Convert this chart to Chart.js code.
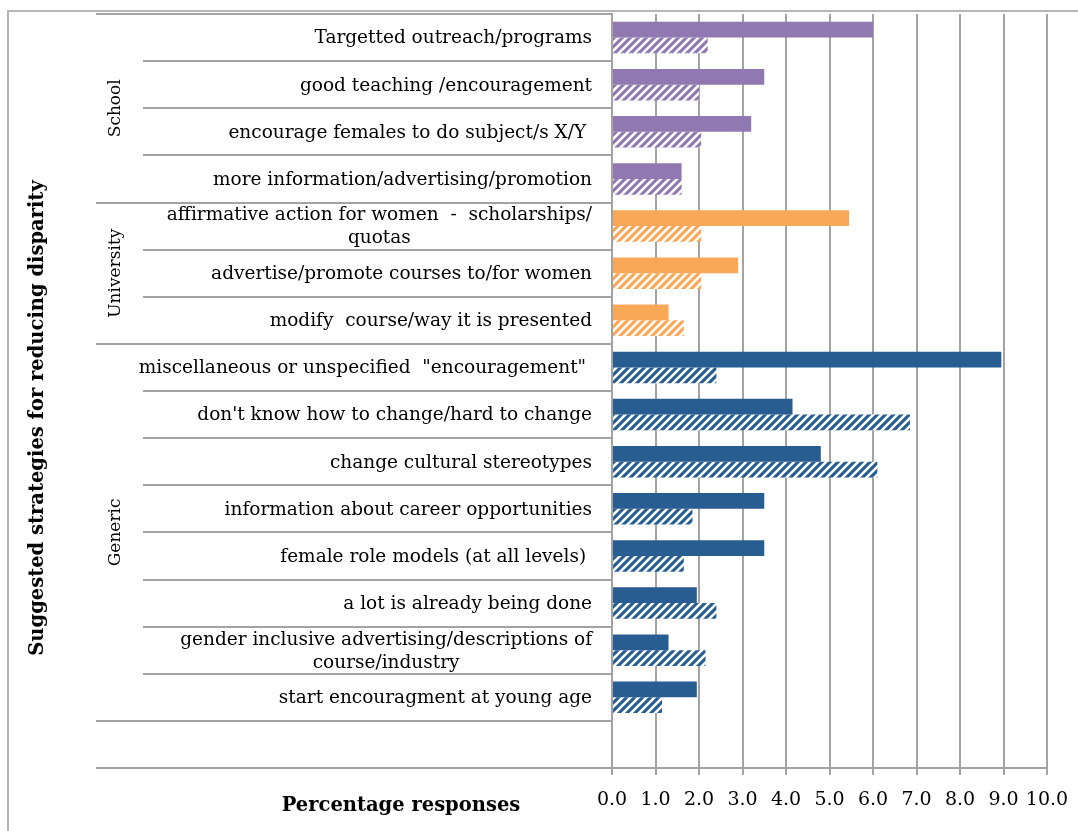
<!DOCTYPE html>
<html>
<head>
<meta charset="utf-8">
<script src="https://cdn.jsdelivr.net/npm/chart.js@4/dist/chart.umd.min.js"></script>
<style>
  html, body { margin: 0; padding: 0; background: #fff; }
  #wrap { position: relative; width: 1078px; height: 831px; }
</style>
</head>
<body>
<div id="wrap"><canvas id="MyChart"></canvas></div>
<script>
// categories, top to bottom (last row is empty in the original)
const categories = [
  'Targetted outreach/programs',
  'good teaching /encouragement',
  'encourage females to do subject/s X/Y ',
  'more information/advertising/promotion',
  ['affirmative action for women  -  scholarships/', 'quotas'],
  'advertise/promote courses to/for women',
  'modify  course/way it is presented',
  'miscellaneous or unspecified  "encouragement" ',
  "don't know how to change/hard to change",
  'change cultural stereotypes',
  'information about career opportunities',
  'female role models (at all levels) ',
  'a lot is already being done',
  ['gender inclusive advertising/descriptions of', 'course/industry'],
  'start encouragment at young age',
  ''
];
const groupNames = ['School', 'University', 'Generic', ''];
const groupSizes = [4, 3, 8, 1];
const groupColors = ['#9079b1', '#f9a858', '#275d90', '#275d90'];

// two series per strategy: solid bars and hatched bars
const solidValues   = [6.0, 3.5, 3.2, 1.6, 5.45, 2.9, 1.3, 8.95, 4.15, 4.8, 3.5, 3.5, 1.95, 1.3, 1.95, null];
const hatchedValues = [2.2, 2.0, 2.05, 1.6, 2.05, 2.05, 1.65, 2.4, 6.85, 6.1, 1.85, 1.65, 2.4, 2.15, 1.15, null];

const xTicks = [0, 1, 2, 3, 4, 5, 6, 7, 8, 9, 10];

const FONT = 'DejaVu Serif';
const GRID = '#a3a3a3';

function hatch(color) {
  const c = document.createElement('canvas');
  c.width = 8; c.height = 8;
  const g = c.getContext('2d');
  g.fillStyle = color;
  g.fillRect(0, 0, 8, 8);
  g.strokeStyle = '#ffffff';
  g.lineWidth = 2.6;
  g.beginPath();
  g.moveTo(-2, 10); g.lineTo(10, -2);
  g.moveTo(-2, 2); g.lineTo(2, -2);
  g.moveTo(6, 10); g.lineTo(10, 6);
  g.stroke();
  return g.createPattern(c, 'repeat');
}

// colour of each row from its group
const rowColors = [];
groupSizes.forEach((n, gi) => { for (let i = 0; i < n; i++) rowColors.push(groupColors[gi]); });
const rowPatterns = rowColors.map(hatch);

const framePlugin = {
  id: 'frame',
  beforeDraw(chart) {
    const ctx = chart.ctx;
    ctx.save();
    ctx.strokeStyle = '#b5b5b5';
    ctx.lineWidth = 2;
    ctx.strokeRect(8, 11, 1200, 1000);
    ctx.restore();
  },
  afterDraw(chart) {
    const ctx = chart.ctx;
    const y = chart.scales.y;
    const area = chart.chartArea;
    const n = categories.length;
    const boundary = i => {
      if (i === 0) return y.top;
      if (i === n) return y.bottom;
      return (y.getPixelForValue(i - 1) + y.getPixelForValue(i)) / 2;
    };
    // group boundaries
    const groupStarts = new Set();
    let acc = 0;
    groupSizes.forEach(s => { groupStarts.add(acc); acc += s; });
    groupStarts.add(acc);

    ctx.save();
    ctx.strokeStyle = GRID;
    ctx.lineWidth = 2;
    for (let i = 0; i <= n; i++) {
      const py = Math.round(boundary(i));
      const x0 = groupStarts.has(i) ? 96 : 143;
      ctx.beginPath();
      ctx.moveTo(x0, py);
      ctx.lineTo(area.left, py);
      ctx.stroke();
    }

    // category labels: block right-aligned, lines centred inside it
    ctx.fillStyle = '#000';
    ctx.font = '18.5px "' + FONT + '"';
    ctx.textAlign = 'center';
    ctx.textBaseline = 'middle';
    const lh = 23;
    categories.forEach((lab, i) => {
      const lines = Array.isArray(lab) ? lab : [lab];
      const w = Math.max(...lines.map(t => ctx.measureText(t).width));
      const cx = area.left - 20 - w / 2;
      const cy = y.getPixelForValue(i) + 1;
      lines.forEach((t, k) => {
        ctx.fillText(t, cx, cy + (k - (lines.length - 1) / 2) * lh);
      });
    });

    // group labels
    ctx.font = '17px "' + FONT + '"';
    acc = 0;
    groupSizes.forEach((s, gi) => {
      const cy = (boundary(acc) + boundary(acc + s)) / 2;
      acc += s;
      if (!groupNames[gi]) return;
      ctx.save();
      ctx.translate(116, cy);
      ctx.rotate(-Math.PI / 2);
      ctx.fillText(groupNames[gi], 0, 0);
      ctx.restore();
    });

    // axis titles
    ctx.font = 'bold 19.5px "' + FONT + '"';
    ctx.fillText('Percentage responses', 401, 806);
    ctx.save();
    ctx.translate(38, 418);
    ctx.rotate(-Math.PI / 2);
    ctx.fillText('Suggested strategies for reducing disparity', 0, 0);
    ctx.restore();
    ctx.restore();
  }
};

const ctx = document.getElementById('MyChart').getContext('2d');
const myChart = new Chart(ctx, {
  type: 'bar',
  data: {
    labels: categories,
    datasets: [
      {
        label: 'solid',
        data: solidValues,
        backgroundColor: rowColors,
        borderWidth: 0
      },
      {
        label: 'hatched',
        data: hatchedValues,
        backgroundColor: rowPatterns,
        borderWidth: 0
      }
    ]
  },
  options: {
    indexAxis: 'y',
    responsive: true,
    maintainAspectRatio: false,
    animation: false,
    categoryPercentage: 0.67,
    barPercentage: 1.0,
    layout: { padding: { left: 0, top: 14, right: 31, bottom: 0 } },
    plugins: {
      legend: { display: false },
      tooltip: { enabled: false }
    },
    scales: {
      x: {
        min: 0,
        max: 10,
        afterFit(s) { s.height = 63; s.paddingLeft = 0; s.paddingRight = 0; },
        afterBuildTicks(s) { s.ticks = xTicks.map(v => ({ value: v })); },
        grid: { color: GRID, lineWidth: 2, tickLength: 7 },
        border: { color: GRID, width: 2 },
        ticks: {
          color: '#000',
          padding: 14,
          autoSkip: false,
          maxRotation: 0,
          font: { family: FONT, size: 19 },
          callback: v => Number(v).toFixed(1)
        }
      },
      y: {
        afterFit(s) { s.width = 612; },
        grid: { display: false, drawTicks: false },
        border: { color: GRID, width: 2 },
        ticks: { display: false }
      }
    }
  },
  plugins: [framePlugin]
});
</script>
</body>
</html>
